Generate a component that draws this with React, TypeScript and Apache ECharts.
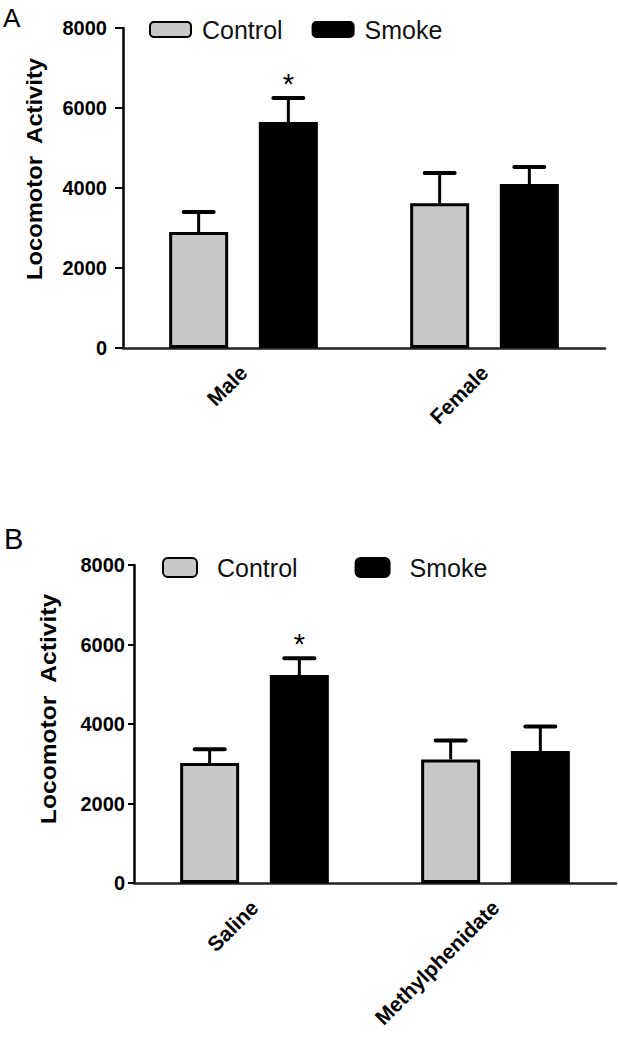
import React, { useEffect, useRef } from "react";
import * as echarts from "echarts";

// ---- Data ----
const categoriesA = ["Male", "Female"];
const controlA = [2900, 3620];
const controlSemA = [500, 755];
const smokeA = [5650, 4100];
const smokeSemA = [600, 425];
const smokeSigA = [1, 0];

const categoriesB = ["Saline", "Methylphenidate"];
const controlB = [3020, 3110];
const controlSemB = [345, 475];
const smokeB = [5230, 3320];
const smokeSemB = [425, 615];
const smokeSigB = [1, 0];

const yTicks = [0, 2000, 4000, 6000, 8000];
const seriesNames = ["Control", "Smoke"];
const yTitle = "Locomotor  Activity";

// ---- Style constants ----
const FONT = '"Liberation Sans", Arial, Helvetica, sans-serif';
const BAR_W = 59;
const BAR_GAP = 0.52;
const OFFSET = (BAR_W * (1 + BAR_GAP)) / 2;
const GRAY = "#c8c8c8";

function errData(cats: string[], means: number[], sems: number[], sig?: number[]) {
  return cats.map((_, i) => [i, means[i], means[i] + sems[i], sig ? sig[i] : 0]);
}

function errSeries(name: string, axis: number, data: number[][], side: number) {
  return {
    type: "custom",
    name,
    xAxisIndex: axis,
    yAxisIndex: axis,
    z: 5,
    data,
    renderItem: (params: any, api: any) => {
      const cat = api.value(0);
      const base = api.coord([cat, api.value(1)]);
      const top = api.coord([cat, api.value(2)]);
      const x = base[0] + side * OFFSET;
      const children: any[] = [
        {
          type: "line",
          shape: { x1: x, y1: base[1], x2: x, y2: top[1] },
          style: { stroke: "#000", lineWidth: 3 },
        },
        {
          type: "line",
          shape: { x1: x - 15, y1: top[1], x2: x + 15, y2: top[1] },
          style: { stroke: "#000", lineWidth: 4, lineCap: "round" },
        },
      ];
      if (api.value(3)) {
        children.push({
          type: "text",
          x: x,
          y: top[1] - 14,
          style: {
            text: "*",
            fontSize: 29,
            fontFamily: FONT,
            fill: "#000",
            align: "center",
            verticalAlign: "middle",
            textAlign: "center",
            textVerticalAlign: "middle",
          },
        });
      }
      return { type: "group", children };
    },
  };
}

function barSeries(name: string, axis: number, data: number[], fill: string) {
  return {
    type: "bar",
    name,
    xAxisIndex: axis,
    yAxisIndex: axis,
    data,
    barWidth: BAR_W,
    barGap: `${BAR_GAP * 100}%`,
    itemStyle: { color: fill, borderColor: "#000", borderWidth: 3 },
    z: 2,
  };
}

function xAxis(idx: number, cats: string[]) {
  return {
    type: "category",
    gridIndex: idx,
    data: cats,
    axisLine: { lineStyle: { color: "#222", width: 2.5 } },
    axisTick: { alignWithLabel: true, length: 10, lineStyle: { color: "#222", width: 2 } },
    axisLabel: {
      rotate: 45,
      interval: 0,
      margin: 21,
      fontSize: 21,
      fontWeight: "bold",
      fontFamily: FONT,
      color: "#000",
    },
  };
}

function yAxis(idx: number, margin: number, tickLen: number) {
  return {
    type: "value",
    gridIndex: idx,
    min: yTicks[0],
    max: yTicks[yTicks.length - 1],
    interval: yTicks[1] - yTicks[0],
    splitLine: { show: false },
    axisLine: { show: true, lineStyle: { color: "#000", width: 2.5 } },
    axisTick: { show: true, length: tickLen, lineStyle: { color: "#000", width: 2 } },
    axisLabel: {
      margin,
      fontSize: 20,
      fontWeight: "bold",
      fontFamily: FONT,
      color: "#000",
      formatter: (v: number) => String(v),
    },
  };
}

function legend(left: number, top: number, itemWidth: number, itemHeight: number, gap: number, pad: number) {
  return {
    data: seriesNames,
    left,
    top,
    orient: "horizontal",
    icon: "roundRect",
    itemWidth,
    itemHeight,
    itemGap: gap,
    selectedMode: false,
    textStyle: {
      fontSize: 25,
      fontFamily: FONT,
      color: "#111",
      padding: [0, 0, 0, pad],
    },
  };
}

function textEl(text: string, x: number, y: number, size: number, bold: boolean, rotation = 0, align = "left", scaleX = 1) {
  return {
    type: "text",
    x,
    y,
    rotation,
    scaleX,
    style: {
      text,
      fontSize: size,
      fontWeight: bold ? "bold" : "normal",
      fontFamily: FONT,
      fill: "#000",
      align,
      verticalAlign: "middle",
      textAlign: align,
      textVerticalAlign: "middle",
    },
  };
}

export default function App() {
  const ref = useRef<HTMLDivElement>(null);
  useEffect(() => {
    if (!ref.current) return;
    const chart = echarts.init(ref.current, null, { renderer: "svg" });
    chart.setOption({
      animation: false,
      backgroundColor: "#fff",
      grid: [
        { left: 123, top: 28, width: 482, height: 320 },
        { left: 134, top: 565, width: 482, height: 318 },
      ],
      legend: [legend(144, 12, 41, 15, 29, 6), legend(157, 550, 34, 19, 57, 15)],
      xAxis: [xAxis(0, categoriesA), xAxis(1, categoriesB)],
      yAxis: [yAxis(0, 16, 8), yAxis(1, 9, 6)],
      graphic: [
        textEl("A", 3, 18, 26, false),
        textEl("B", 4, 539, 29, false),
        textEl(yTitle, 34, 169, 22, true, Math.PI / 2, "center", 1.08),
        textEl(yTitle, 48, 709, 22, true, Math.PI / 2, "center", 1.12),
      ],
      series: [
        barSeries(seriesNames[0], 0, controlA, GRAY),
        barSeries(seriesNames[1], 0, smokeA, "#000"),
        barSeries(seriesNames[0], 1, controlB, GRAY),
        barSeries(seriesNames[1], 1, smokeB, "#000"),
        errSeries("errControlA", 0, errData(categoriesA, controlA, controlSemA), -1),
        errSeries("errSmokeA", 0, errData(categoriesA, smokeA, smokeSemA, smokeSigA), 1),
        errSeries("errControlB", 1, errData(categoriesB, controlB, controlSemB), -1),
        errSeries("errSmokeB", 1, errData(categoriesB, smokeB, smokeSemB, smokeSigB), 1),
      ],
    });
    return () => chart.dispose();
  }, []);
  return (
    <div
      ref={ref}
      style={{ position: "absolute", left: 0, top: 0, width: 618, height: 1050, background: "#fff" }}
    />
  );
}
